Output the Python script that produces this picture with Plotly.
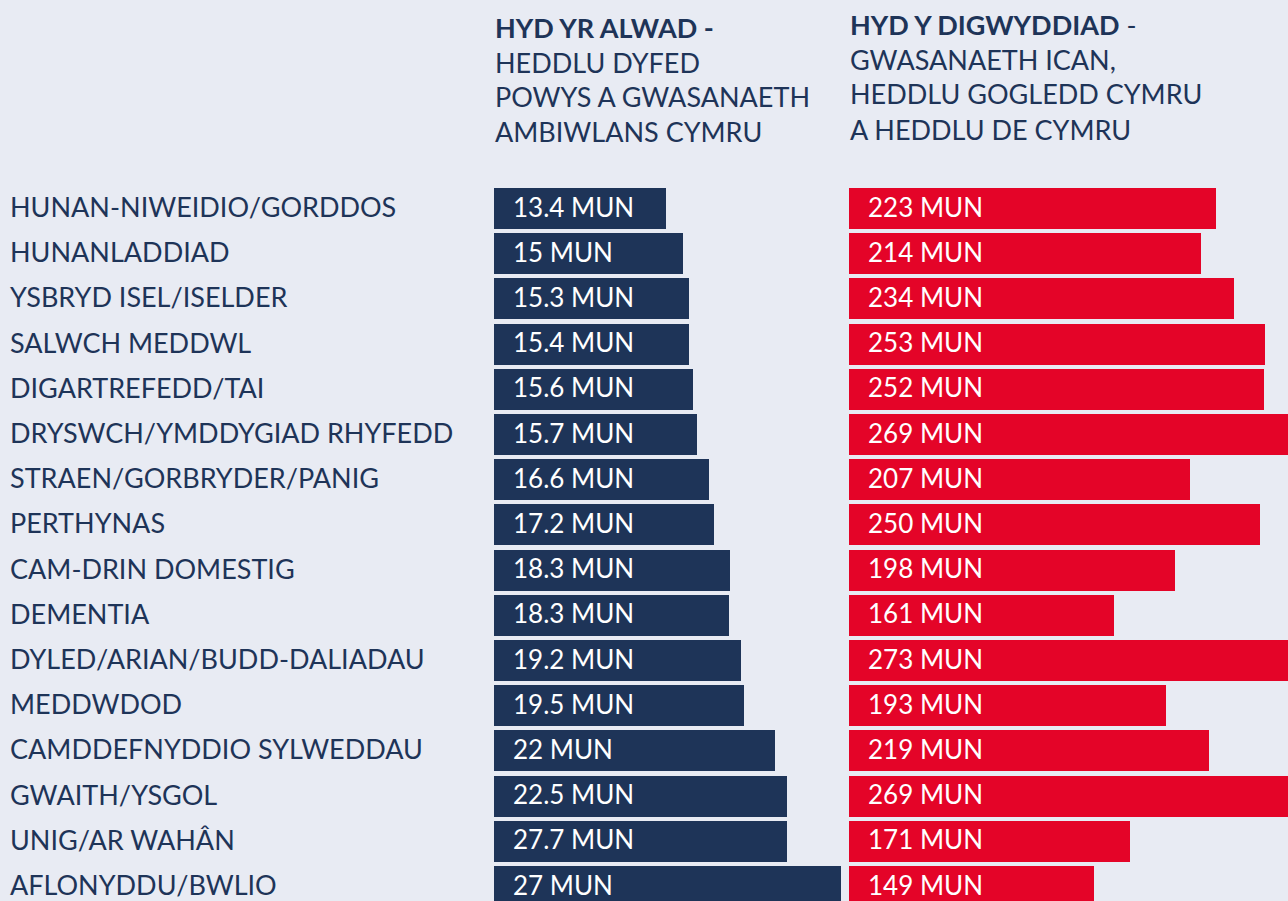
import plotly.graph_objects as go

categories = [
    "HUNAN-NIWEIDIO/GORDDOS", "HUNANLADDIAD", "YSBRYD ISEL/ISELDER", "SALWCH MEDDWL",
    "DIGARTREFEDD/TAI", "DRYSWCH/YMDDYGIAD RHYFEDD", "STRAEN/GORBRYDER/PANIG", "PERTHYNAS",
    "CAM-DRIN DOMESTIG", "DEMENTIA", "DYLED/ARIAN/BUDD-DALIADAU", "MEDDWDOD",
    "CAMDDEFNYDDIO SYLWEDDAU", "GWAITH/YSGOL", "UNIG/AR WAHÂN", "AFLONYDDU/BWLIO",
]
# Call duration labels (minutes) as printed
call_minutes = ["13.4", "15", "15.3", "15.4", "15.6", "15.7", "16.6", "17.2",
                "18.3", "18.3", "19.2", "19.5", "22", "22.5", "27.7", "27"]
# Call bar lengths as drawn in the picture (minutes)
call_bar = [13.5, 14.8, 15.3, 15.3, 15.6, 15.9, 16.9, 17.25,
            18.5, 18.4, 19.4, 19.6, 22.0, 23.0, 23.0, 27.2]
# Incident duration (minutes)
incident_minutes = [223, 214, 234, 253, 252, 269, 207, 250,
                    198, 161, 273, 193, 219, 269, 171, 149]

header_left = ["<b>HYD YR ALWAD -</b>", "HEDDLU DYFED", "POWYS A GWASANAETH", "AMBIWLANS CYMRU"]
header_right = ["<b>HYD Y DIGWYDDIAD</b> -", "GWASANAETH ICAN,", "HEDDLU GOGLEDD CYMRU", "A HEDDLU DE CYMRU"]

NAVY = "#1e3458"
RED = "#e40428"
BG = "#e8ebf3"
FONT = "Lato"
W, H = 1288, 901

rows = list(range(len(categories)))

fig = go.Figure()
fig.add_trace(go.Bar(x=call_bar, y=rows, orientation="h", width=0.907,
                     marker=dict(color=NAVY, line=dict(width=0)),
                     xaxis="x", yaxis="y", hoverinfo="skip", showlegend=False))
fig.add_trace(go.Bar(x=incident_minutes, y=rows, orientation="h", width=0.907,
                     marker=dict(color=RED, line=dict(width=0)),
                     xaxis="x2", yaxis="y", hoverinfo="skip", showlegend=False))

ann = []
for i, c in enumerate(categories):
    ann.append(dict(text=c, x=8 / W, xref="paper", y=i, yref="y", xanchor="left",
                    yanchor="middle", showarrow=False, yshift=2,
                    font=dict(family=FONT, size=27, color=NAVY)))
    ann.append(dict(text=f"{call_minutes[i]} MUN", x=0, xref="x", y=i, yref="y",
                    xanchor="left", yanchor="middle", showarrow=False, xshift=17, yshift=2,
                    font=dict(family=FONT, size=26, color="white")))
    ann.append(dict(text=f"{incident_minutes[i]} MUN", x=0, xref="x2", y=i, yref="y",
                    xanchor="left", yanchor="middle", showarrow=False, xshift=17, yshift=2,
                    font=dict(family=FONT, size=26, color="white")))

left_centers = [27.5, 62.5, 96.5, 131]
right_centers = [24.5, 59.5, 94, 129]
for t, cy in zip(header_left, left_centers):
    ann.append(dict(text=t, x=493 / W, xref="paper", y=1 - cy / H, yref="paper",
                    xanchor="left", yanchor="middle", showarrow=False,
                    font=dict(family=FONT, size=27, color=NAVY)))
for t, cy in zip(header_right, right_centers):
    ann.append(dict(text=t, x=848 / W, xref="paper", y=1 - cy / H, yref="paper",
                    xanchor="left", yanchor="middle", showarrow=False,
                    font=dict(family=FONT, size=27, color=NAVY)))

row_px = 45.2
first_c = 208.5
fig.update_layout(
    width=W, height=H,
    margin=dict(l=0, r=0, t=0, b=0),
    paper_bgcolor=BG, plot_bgcolor=BG,
    bargap=0,
    xaxis=dict(domain=[494 / W, 849 / W], range=[0, 355 / 12.75], visible=False,
               fixedrange=True),
    xaxis2=dict(domain=[849 / W, 1.0], range=[0, 439 / 1.645], visible=False,
                anchor="y", fixedrange=True),
    yaxis=dict(range=[(H - first_c) / row_px, -first_c / row_px], visible=False,
               fixedrange=True),
    annotations=ann,
)

fig.write_html("out.html", config={"displayModeBar": False},
               post_script="document.body.style.margin='0';document.body.style.overflow='hidden';")
